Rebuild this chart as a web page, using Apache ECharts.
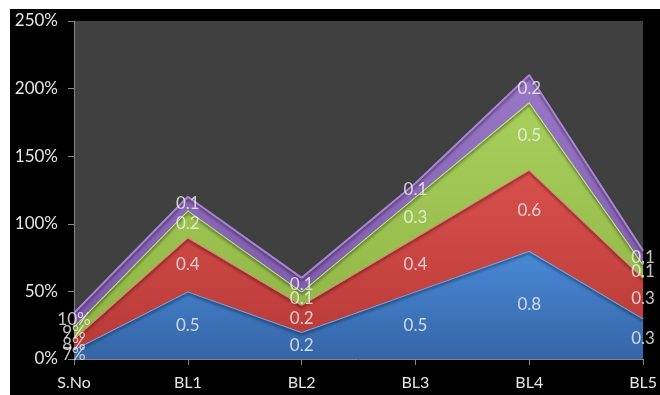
<!DOCTYPE html>
<html><head><meta charset="utf-8">
<script src="https://cdn.jsdelivr.net/npm/echarts@6/dist/echarts.min.js"></script>
<style>
html,body{margin:0;padding:0;background:#fff;width:660px;height:395px;overflow:hidden;}
#c{position:absolute;left:10px;top:9px;width:650px;height:386px;background:#000;}
</style></head>
<body><div id="c"></div>
<script>
var categories = ['S.No','BL1','BL2','BL3','BL4','BL5'];
var blue   = [0.07, 0.5, 0.2, 0.5, 0.8, 0.3];
var red    = [0.08, 0.4, 0.2, 0.4, 0.6, 0.3];
var green  = [0.09, 0.2, 0.1, 0.3, 0.5, 0.1];
var purple = [0.10, 0.1, 0.1, 0.1, 0.2, 0.1];
var yTicks = {min: 0, max: 2.5, interval: 0.5};

var seriesData = [blue, red, green, purple];
var fills = [
  ['#4a89d6','#3565a6'],
  ['#d9504c','#b83a37'],
  ['#a8cf5c','#8fb445'],
  ['#9a78c8','#7b58a8']
];
var edges = ['#6aaaf0','#f07a76','#c3e67e','#a884d6'];

var chart = echarts.init(document.getElementById('c'), null, {renderer:'canvas'});
var font = 'Lato, "Open Sans", sans-serif';

var series = [];
seriesData.forEach(function(d, i){
  series.push({
    type:'line', stack:'total', data:d, symbol:'none', smooth:false,
    lineStyle:{color:edges[i], width:2, shadowColor:'rgba(0,0,0,0.5)', shadowBlur:3, shadowOffsetY:2},
    areaStyle:{opacity:1, color:new echarts.graphic.LinearGradient(0,0,0,1,[{offset:0,color:fills[i][0]},{offset:1,color:fills[i][1]}])},
    z:2+i, silent:true
  });
});
// label points at middle of each band
var cum = categories.map(function(){return 0;});
seriesData.forEach(function(d, i){
  var pts = d.map(function(v, j){ var m = cum[j] + v/2; cum[j] += v; return [j, m, v]; });
  series.push({
    type:'scatter', data:pts, symbolSize:0, clip:false, z:20, silent:true,
    label:{show:true, position:'inside', color:'#f2f2f2', fontSize:17, fontFamily:font,
      formatter:function(p){ var v = p.data[2]; return p.data[0]===0 ? Math.round(v*100)+'%' : String(v); }}
  });
});

chart.setOption({
  animation:false,
  backgroundColor:'#000',
  grid:{left:64, right:12, top:12, bottom:36, show:true, backgroundColor:'#404040', borderWidth:0},
  xAxis:{type:'category', data:categories, boundaryGap:false,
    axisLine:{lineStyle:{color:'#868686', width:1}},
    axisTick:{show:true, alignWithLabel:true, length:6, lineStyle:{color:'#868686'}},
    axisLabel:{color:'#e6e6e6', fontSize:16, fontFamily:font, margin:16},
    splitLine:{show:false}},
  yAxis:{type:'value', min:yTicks.min, max:yTicks.max, interval:yTicks.interval,
    axisLine:{show:true, lineStyle:{color:'#868686', width:1}},
    axisTick:{show:true, length:6, lineStyle:{color:'#868686'}},
    axisLabel:{color:'#e6e6e6', fontSize:17, fontFamily:font, margin:16,
      formatter:function(v){return Math.round(v*100)+'%';}},
    splitLine:{show:false}},
  series:series
});
</script></body></html>
